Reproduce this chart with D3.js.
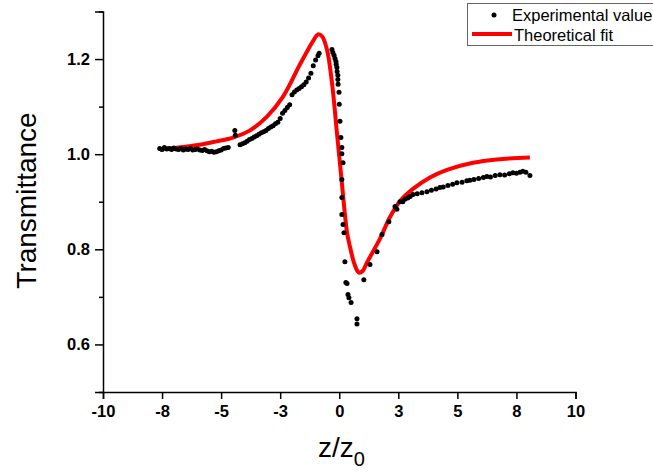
<!DOCTYPE html>
<html lang="en">
<head>
    <meta charset="UTF-8">
    <title>Transmittance</title>
    <script src="https://cdn.jsdelivr.net/npm/d3@7/dist/d3.min.js"></script>
    <style>
        body { margin: 0; background: #fff; }
        text { font-family: Arial, "Liberation Sans", sans-serif; }
    </style>
</head>
<body>
<script type="text/javascript">
    // experimental points: z/z0 and transmittance
    var expZ = [-7.6, -7.5, -7.4, -7.3, -7.2, -7.1, -7.0, -6.9, -6.8, -6.7, -6.6, -6.5, -6.4, -6.3, -6.2, -6.1,
        -6.0, -5.9, -5.8, -5.7, -5.6, -5.5, -5.4, -5.3, -5.2, -5.1, -5.0, -4.9, -4.8, -4.7, -4.42, -4.40,
        -4.2, -4.1, -4.0, -3.9, -3.8, -3.7, -3.6, -3.5, -3.4, -3.3, -3.2, -3.1, -3.0, -2.9, -2.8, -2.7, -2.6,
        -2.5, -2.4, -2.3, -2.2, -2.1, -2.0, -1.9, -1.8, -1.7, -1.6, -1.5, -1.4, -1.3, -1.2, -1.1, -1.0, -0.9, -0.85,
        -0.31, -0.27, -0.22, -0.18, -0.14, -0.13, -0.10, -0.09, -0.06, -0.06, -0.05, -0.01, 0.00, 0.03, 0.07,
        0.11, 0.11, 0.16, 0.11, 0.11, 0.11, 0.16, 0.20, 0.24, 0.28, 0.33, 0.37, 0.41, 0.50, 0.75, 0.75,
        1.04, 1.30, 1.60, 1.81, 2.10, 2.36, 2.44, 2.57, 2.69, 2.78, 2.9, 3.0, 3.12, 3.3, 3.5, 3.71, 3.9, 4.1,
        4.26, 4.4, 4.6, 4.8, 4.98, 5.2, 5.4, 5.53, 5.7, 5.9, 6.1, 6.25, 6.4, 6.6, 6.8, 7.0, 7.2, 7.35, 7.5,
        7.65, 7.77, 7.9, 8.07];
    var expT = [1.012, 1.010, 1.014, 1.011, 1.012, 1.010, 1.013, 1.011, 1.010, 1.012, 1.009, 1.011, 1.010, 1.012, 1.009, 1.010,
        1.011, 1.009, 1.008, 1.010, 1.007, 1.005, 1.006, 1.004, 1.005, 1.007, 1.009, 1.012, 1.013, 1.014, 1.050, 1.040,
        1.020, 1.022, 1.024, 1.027, 1.031, 1.033, 1.036, 1.039, 1.042, 1.045, 1.047, 1.050, 1.054, 1.057, 1.060, 1.064, 1.067,
        1.075, 1.086, 1.092, 1.098, 1.104, 1.125, 1.131, 1.135, 1.138, 1.142, 1.146, 1.152, 1.160, 1.170, 1.186, 1.198, 1.207, 1.212,
        1.220, 1.214, 1.208, 1.201, 1.195, 1.189, 1.182, 1.174, 1.166, 1.157, 1.147, 1.130, 1.105, 1.069, 1.035,
        1.014, 1.001, 0.982, 0.947, 0.909, 0.873, 0.852, 0.835, 0.774, 0.730, 0.728, 0.705, 0.698, 0.688, 0.654, 0.643,
        0.736, 0.768, 0.795, 0.831, 0.858, 0.890, 0.884, 0.900, 0.900, 0.905, 0.908, 0.911, 0.915, 0.917, 0.919, 0.921, 0.924, 0.927,
        0.930, 0.931, 0.934, 0.937, 0.940, 0.941, 0.944, 0.945, 0.947, 0.949, 0.951, 0.953, 0.952, 0.955, 0.957, 0.956, 0.959, 0.961, 0.960,
        0.962, 0.964, 0.962, 0.955];

    // theoretical fit curve
    var fitZ = [-7.59, -6.8, -5.90, -5.2, -4.50, -3.78, -3.06, -2.38, -1.66, -1.24, -1.07, -0.90, -0.73, -0.52, -0.31,
        -0.10, 0.11, 0.33, 0.45, 0.65, 0.83, 1.0, 1.17, 1.72, 2.15, 2.57, 3.12, 3.84, 4.56, 5.66, 6.67, 8.07];
    var fitT = [1.010, 1.014, 1.020, 1.027, 1.035, 1.050, 1.079, 1.121, 1.189, 1.227, 1.241, 1.252, 1.248, 1.220, 1.151,
        1.046, 0.940, 0.835, 0.806, 0.768, 0.751, 0.755, 0.772, 0.822, 0.868, 0.901, 0.927, 0.951, 0.967, 0.982, 0.989, 0.993];

    var xTicks = [-10, -7.5, -5, -2.5, 0, 2.5, 5, 7.5, 10];
    var yTicks = [0.6, 0.8, 1.0, 1.2];
    var yMinor = [0.5, 0.7, 0.9, 1.1, 1.3];

    var width = 653, height = 472;
    var svg = d3.select('body').append('svg')
            .attr('width', width)
            .attr('height', height);

    var x = d3.scaleLinear().domain([-10, 10]).range([103, 575.5]);
    var y = d3.scaleLinear().domain([0.5, 1.3]).range([392, 11.5]);

    var xAxis = d3.axisBottom(x)
            .tickValues(xTicks)
            .tickSize(7)
            .tickPadding(6)
            .tickFormat(function (d) {
                var r = Math.round(Math.abs(d));
                return (d < 0 ? '-' : '') + r;
            });
    svg.append('g')
            .attr('transform', 'translate(0,392)')
            .call(xAxis);

    var gyMinor = svg.append('g')
            .attr('transform', 'translate(103,0)')
            .call(d3.axisLeft(y).tickValues(yMinor).tickSize(4).tickFormat(''));
    gyMinor.select('.domain').remove();

    svg.append('g')
            .attr('transform', 'translate(103,0)')
            .call(d3.axisLeft(y).tickValues(yTicks).tickSize(8).tickPadding(5).tickFormat(d3.format('.1f')));

    svg.selectAll('.domain').attr('stroke', '#000').attr('stroke-width', 1.5);
    svg.selectAll('.tick line').attr('stroke', '#000').attr('stroke-width', 1.5);
    svg.selectAll('.tick text')
            .attr('fill', '#000')
            .style('font-size', '16.5px')
            .style('font-weight', 'bold')
            .style('font-family', 'Arial, "Liberation Sans", sans-serif');

    // axis titles
    svg.append('text')
            .attr('transform', 'translate(36,200.5) rotate(-90)')
            .attr('text-anchor', 'middle')
            .style('font-size', '28px')
            .text('Transmittance');

    var xt = svg.append('text')
            .attr('x', 318)
            .attr('y', 457)
            .style('font-size', '28px');
    xt.append('tspan').text('z/z');
    xt.append('tspan').attr('y', 466).style('font-size', '20px').text('0');

    // fit line
    var line = d3.line()
            .x(function (d, i) { return x(fitZ[i]); })
            .y(function (d, i) { return y(fitT[i]); })
            .curve(d3.curveCatmullRom.alpha(0.5));
    svg.append('path')
            .datum(fitZ)
            .attr('d', line)
            .attr('fill', 'none')
            .attr('stroke', '#ff0000')
            .attr('stroke-width', 4);

    // experimental points
    svg.selectAll('circle.exp')
            .data(expZ)
            .enter()
            .append('circle')
            .attr('class', 'exp')
            .attr('cx', function (d) { return x(d); })
            .attr('cy', function (d, i) { return y(expT[i]); })
            .attr('r', 2.5)
            .attr('fill', '#000');

    // legend
    var lg = svg.append('g');
    lg.append('rect')
            .attr('x', 467.5).attr('y', 3.5)
            .attr('width', 220).attr('height', 42)
            .attr('fill', '#fff')
            .attr('stroke', '#666')
            .attr('stroke-width', 1);
    lg.append('circle').attr('cx', 494).attr('cy', 15).attr('r', 2.5).attr('fill', '#000');
    lg.append('line')
            .attr('x1', 472).attr('x2', 512)
            .attr('y1', 34).attr('y2', 34)
            .attr('stroke', '#ff0000').attr('stroke-width', 4);
    lg.append('text').attr('x', 512).attr('y', 21).style('font-size', '16.5px').text('Experimental value');
    lg.append('text').attr('x', 514).attr('y', 41).style('font-size', '16.5px').text('Theoretical fit');
</script>
</body>
</html>
